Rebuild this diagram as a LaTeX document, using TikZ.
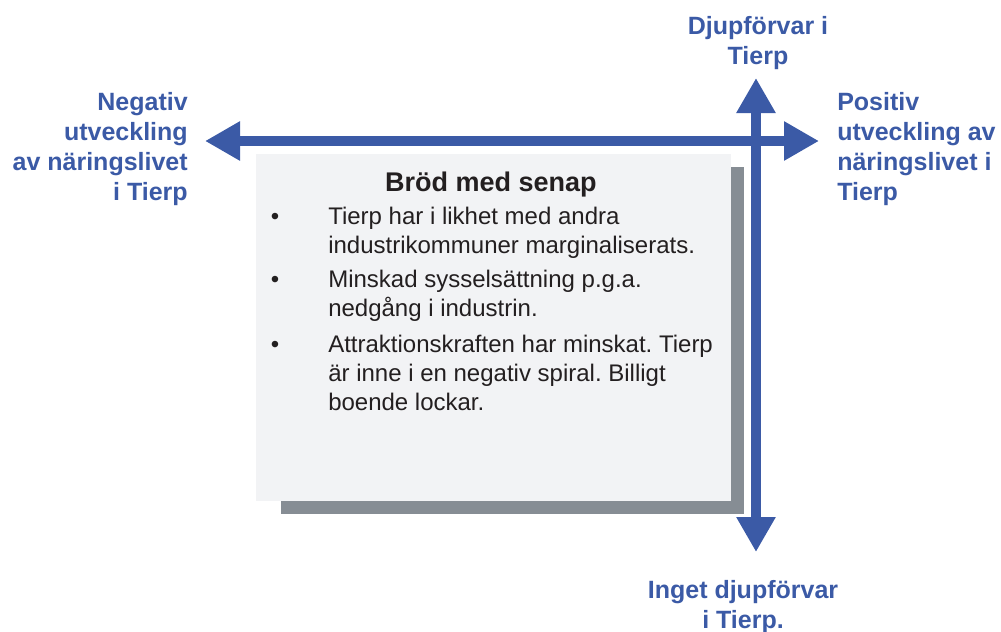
\documentclass[tikz,border=0pt]{standalone}
\usepackage{fontspec}
\setmainfont{Liberation Sans}
\usepackage{xcolor}
\usepackage{tikz}
\usetikzlibrary{arrows.meta}

\definecolor{axisblue}{RGB}{59,90,166}
\definecolor{shadowgray}{RGB}{134,141,148}
\definecolor{boxgray}{RGB}{242,243,245}
\definecolor{inktext}{RGB}{35,31,32}
\frenchspacing

\begin{document}
\begin{tikzpicture}[x=0.75pt, y=-0.75pt,
        axis/.style={draw=axisblue, line width=7.5pt,
        {Triangle[width=27.75pt,length=26.25pt]}-{Triangle[width=27.75pt,length=26.25pt]}},
        axislabel/.style={text=axisblue, inner sep=0pt,
        font=\fontsize{18.75}{22.5}\selectfont\bfseries},
        bodytext/.style={inner sep=0pt, align=left, anchor=base west, text=inktext,
        font=\fontsize{18}{21.75}\selectfont},
        bulletmark/.style={inner sep=0pt, anchor=base, text=inktext,
        font=\fontsize{18}{21.75}\selectfont}]
        \useasboundingbox (0,0) rectangle (1001,632);
        % box with shadow
        \fill[shadowgray] (281,167) rectangle (744,514);
        \fill[boxgray] (256,154) rectangle (731,501);
        \node[inner sep=0pt, anchor=base, text=inktext,
        font=\fontsize{20.25}{24}\selectfont\bfseries] 
        (title) at (491,191) {Bröd med senap};
        \foreach \y in {224,287,352}
        \node[bulletmark] at (275,\y) {•};
        % anchor at the last line
        \node[bodytext] (item1) at (328,253) {Tierp har i likhet med andra\\
        industrikommuner marginaliserats.};
        \node[bodytext] (item2) at (328,316) {Minskad sysselsättning p.g.a.\\
        nedgång i industrin.};
        \node[bodytext] (item3) at (328,410) {Attraktionskraften har minskat. Tierp\\
        är inne i en negativ spiral. Billigt\\ boende lockar.};
        % axes
        \coordinate (west) at (205,141);
        \coordinate (east) at (819,141);
        \coordinate (north) at (756,78);
        \coordinate (south) at (756,552);
        \draw[axis] (west) -- (east);
        \draw[axis] (north) -- (south);
        % axis labels
        \node[axislabel, align=right, anchor=base east] (neg) at (188,200) 
        {Negativ\\ utveckling\\ av näringslivet\\ i Tierp};
        \node[axislabel, align=left, anchor=base west] (pos) at (837,200) 
        {Positiv\\ utveckling av\\ näringslivet i\\ Tierp};
        \node[axislabel, align=center, anchor=base] (deep) at (758,64) 
        {Djupförvar i\\ Tierp};
        \node[axislabel, align=center, anchor=base] (nodeep) at (743,628) 
        {Inget djupförvar\\ i Tierp.};
\end{tikzpicture}
\end{document}
